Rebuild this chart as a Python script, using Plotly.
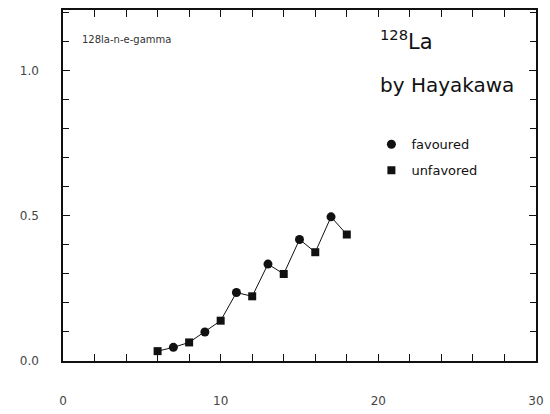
import plotly.graph_objects as go

# Spin values and measured quantity for 128La
spin = [6, 7, 8, 9, 10, 11, 12, 13, 14, 15, 16, 17, 18]
value = [0.034, 0.047, 0.064, 0.100, 0.139, 0.236, 0.223, 0.334, 0.300, 0.419, 0.375, 0.497, 0.436]

fav_x = [s for s in spin if s % 2 == 1]
fav_y = [v for s, v in zip(spin, value) if s % 2 == 1]
unf_x = [s for s in spin if s % 2 == 0]
unf_y = [v for s, v in zip(spin, value) if s % 2 == 0]

x_ticks = [0, 10, 20, 30]
y_ticks = [0.0, 0.5, 1.0]

ink = "#111111"
label_font = dict(family="DejaVu Sans", size=12, color="#444444")

fig = go.Figure()
fig.add_trace(go.Scatter(x=spin, y=value, mode="lines",
                         line=dict(color=ink, width=1), showlegend=False, hoverinfo="skip"))
fig.add_trace(go.Scatter(x=fav_x, y=fav_y, mode="markers", name="favoured",
                         legendgroup="a",
                         marker=dict(symbol="circle", size=9, color=ink)))
fig.add_trace(go.Scatter(x=unf_x, y=unf_y, mode="markers", name="unfavored",
                         legendgroup="b",
                         marker=dict(symbol="square", size=8, color=ink)))

axis_common = dict(showgrid=False, zeroline=False, showline=True, linecolor=ink, linewidth=1.5,
                   mirror="ticks", ticks="inside", ticklen=7, tickcolor=ink, tickwidth=1,
                   tickfont=label_font)

fig.update_xaxes(range=[0, 30], tickmode="array", tickvals=x_ticks,
                 ticktext=[str(t) for t in x_ticks], ticklabelstandoff=28,
                 minor=dict(dtick=2, ticks="inside", ticklen=7, tickcolor=ink), **axis_common)
fig.update_yaxes(range=[0, 1.21], tickmode="array", tickvals=y_ticks,
                 ticktext=[f"{t:.1f}" for t in y_ticks], ticklabelstandoff=20,
                 minor=dict(dtick=0.1, ticks="inside", ticklen=6, tickcolor=ink), **axis_common)

fig.add_annotation(x=0.035, y=0.915, xref="paper", yref="paper", xanchor="left", yanchor="middle",
                   text="128la-n-e-gamma", showarrow=False,
                   font=dict(family="DejaVu Sans", size=10, color="#333333"))
fig.add_annotation(x=0.665, y=0.915, xref="paper", yref="paper", xanchor="left", yanchor="middle",
                   text="<sup>128</sup>La", showarrow=False,
                   font=dict(family="DejaVu Sans", size=21, color=ink))
fig.add_annotation(x=0.665, y=0.785, xref="paper", yref="paper", xanchor="left", yanchor="middle",
                   text="by Hayakawa", showarrow=False,
                   font=dict(family="DejaVu Sans", size=20, color=ink))

fig.update_layout(
    width=550, height=414,
    margin=dict(l=63, r=6, t=10, b=46),
    paper_bgcolor="white", plot_bgcolor="white",
    legend=dict(x=0.652, y=0.66, xanchor="left", yanchor="top",
                bgcolor="rgba(0,0,0,0)", font=dict(family="DejaVu Sans", size=13, color=ink),
                traceorder="grouped", tracegroupgap=6, itemwidth=30),
)

fig.write_html("out.html")
